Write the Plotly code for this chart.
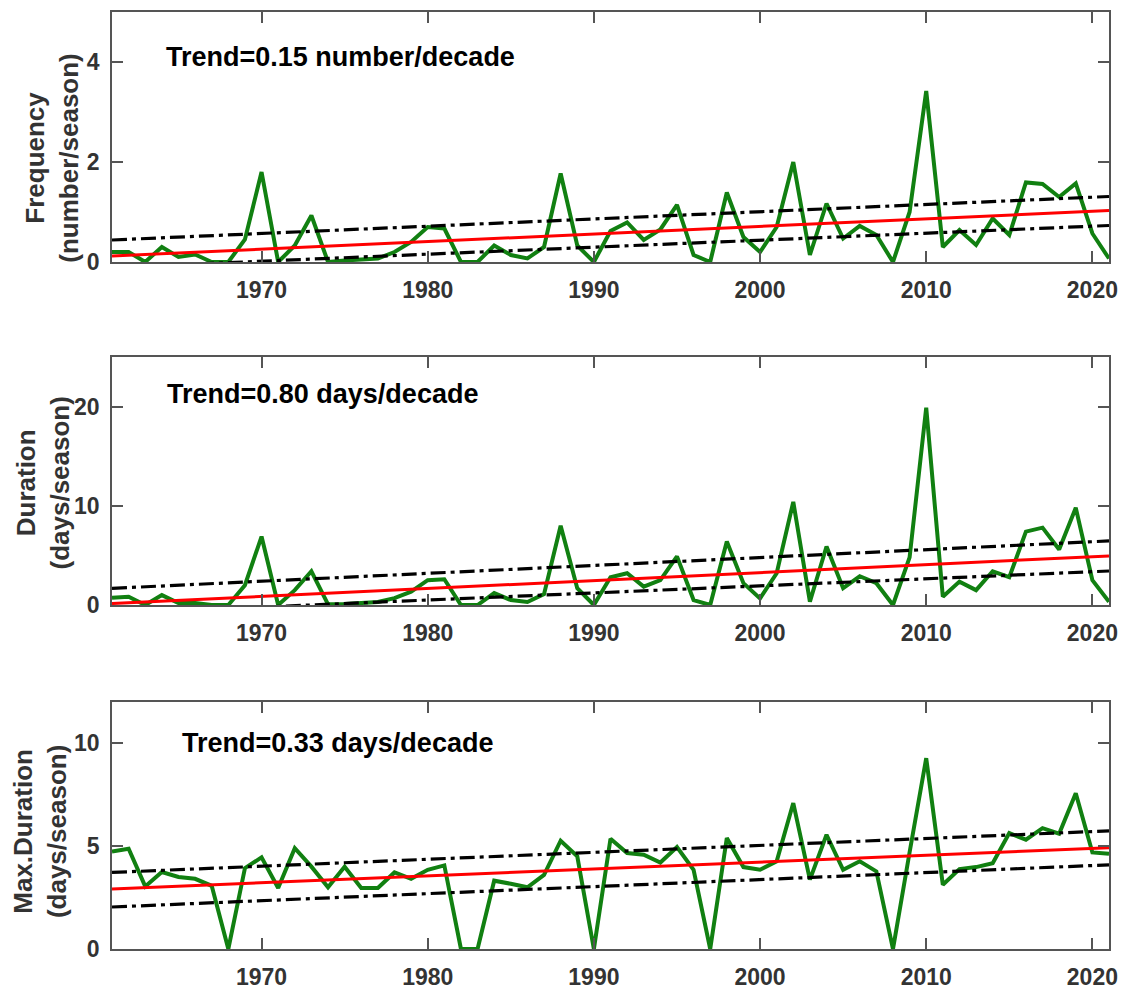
import plotly.graph_objects as go

years = list(range(1961, 2022))

frequency = [0.2, 0.2, 0.0, 0.3, 0.1, 0.15, 0.0, 0.0, 0.45, 1.8,
             0.0, 0.33, 0.93, 0.0, 0.03, 0.05, 0.07, 0.2, 0.4, 0.7,
             0.67, 0.0, 0.0, 0.33, 0.14, 0.07, 0.3, 1.77, 0.33, 0.0,
             0.62, 0.79, 0.44, 0.65, 1.14, 0.14, 0.0, 1.39, 0.5, 0.2,
             0.7, 2.0, 0.14, 1.17, 0.47, 0.72, 0.54, 0.0, 1.0, 3.42,
             0.3, 0.64, 0.34, 0.87, 0.54, 1.59, 1.56, 1.3, 1.57, 0.57,
             0.07]

duration = [0.74, 0.84, 0.0, 1.0, 0.2, 0.2, 0.0, 0.0, 2.0, 6.9,
            0.0, 1.5, 3.4, 0.07, 0.1, 0.2, 0.3, 0.7, 1.35, 2.5,
            2.6, 0.0, 0.0, 1.2, 0.5, 0.3, 1.1, 8.0, 1.7, 0.0,
            2.8, 3.2, 1.85, 2.5, 4.9, 0.5, 0.0, 6.4, 2.2, 0.67,
            3.2, 10.4, 0.34, 5.9, 1.7, 2.9, 2.2, 0.0, 4.8, 19.9,
            0.84, 2.36, 1.5, 3.4, 2.8, 7.4, 7.8, 5.6, 9.8, 2.5,
            0.34]

max_duration = [4.74, 4.87, 3.04, 3.74, 3.5, 3.41, 3.07, 0.0, 3.93, 4.45,
                2.96, 4.9, 4.0, 3.0, 4.0, 2.96, 2.96, 3.72, 3.41, 3.85,
                4.06, 0.0, 0.0, 3.32, 3.17, 3.0, 3.6, 5.26, 4.5, 0.0,
                5.36, 4.66, 4.58, 4.2, 4.95, 3.85, 0.0, 5.39, 3.98, 3.85,
                4.26, 7.09, 3.37, 5.55, 3.85, 4.26, 3.77, 0.0, 4.7, 9.27,
                3.12, 3.88, 3.98, 4.17, 5.63, 5.31, 5.87, 5.6, 7.57, 4.69,
                4.63]

trend_years = [1961, 2021]
freq_trend = [0.12, 1.03]
freq_upper = [0.44, 1.31]
freq_lower = [-0.11, 0.73]
dur_trend = [0.15, 4.95]
dur_upper = [1.68, 6.46]
dur_lower = [-0.85, 3.43]
maxd_trend = [2.92, 4.92]
maxd_upper = [3.72, 5.74]
maxd_lower = [2.04, 4.09]

trend_texts = ["Trend=0.15 number/decade", "Trend=0.80 days/decade", "Trend=0.33 days/decade"]
y_titles = ["Frequency<br>(number/season)", "Duration<br>(days/season)", "Max.Duration<br>(days/season)"]
x_ticks = [1970, 1980, 1990, 2000, 2010, 2020]

FONT = "Arial, Liberation Sans, sans-serif"
GREEN = "#118011"
FRAME = "#555555"
LABEL = "#333333"

panels = [
    dict(y=frequency, t=freq_trend, u=freq_upper, l=freq_lower, rng=[0, 5], dtick=2,
         dom=[0.7332, 1.0], tx=1964.1, ty=0.82, tcx=-0.0597, tcy=0.845),
    dict(y=duration, t=dur_trend, u=dur_upper, l=dur_lower, rng=[0, 25], dtick=10,
         dom=[0.3671, 0.6318], tx=1964.2, ty=0.851, tcx=-0.069, tcy=0.497),
    dict(y=max_duration, t=maxd_trend, u=maxd_upper, l=maxd_lower, rng=[0, 12], dtick=5,
         dom=[0.0, 0.2636], tx=1965.1, ty=0.836, tcx=-0.072, tcy=0.125),
]

fig = go.Figure()
annotations = []
layout = {}
for i, p in enumerate(panels):
    n = "" if i == 0 else str(i + 1)
    xa, ya = "x" + n, "y" + n
    dash = "15px,5px,4px,5px"
    fig.add_trace(go.Scatter(x=years, y=p["y"], mode="lines", line=dict(color=GREEN, width=4),
                             xaxis=xa, yaxis=ya, showlegend=False))
    fig.add_trace(go.Scatter(x=trend_years, y=p["u"], mode="lines",
                             line=dict(color="black", width=3.2, dash=dash),
                             xaxis=xa, yaxis=ya, showlegend=False))
    fig.add_trace(go.Scatter(x=trend_years, y=p["l"], mode="lines",
                             line=dict(color="black", width=3.2, dash=dash),
                             xaxis=xa, yaxis=ya, showlegend=False))
    fig.add_trace(go.Scatter(x=trend_years, y=p["t"], mode="lines",
                             line=dict(color="#ff0000", width=3),
                             xaxis=xa, yaxis=ya, showlegend=False))
    layout["xaxis" + n] = dict(
        domain=[0, 1], range=[1961, 2021], anchor=ya, automargin=False,
        tickvals=x_ticks, ticktext=[str(v) for v in x_ticks],
        ticks="inside", ticklen=11, tickwidth=1.5, tickcolor=FRAME,
        showline=True, linecolor=FRAME, linewidth=1.5, mirror="ticks",
        showgrid=False, zeroline=False, ticklabelstandoff=7,
        tickfont=dict(family=FONT, size=23, color=LABEL, weight="bold"),
    )
    layout["yaxis" + n] = dict(
        domain=p["dom"], range=p["rng"], anchor=xa, dtick=p["dtick"], tick0=0,
        automargin=False,
        ticks="inside", ticklen=11, tickwidth=1.5, tickcolor=FRAME,
        showline=True, linecolor=FRAME, linewidth=1.5, mirror="ticks",
        showgrid=False, zeroline=False, ticklabelstandoff=6,
        tickfont=dict(family=FONT, size=23, color=LABEL, weight="bold"),
    )
    annotations.append(dict(
        text=trend_texts[i], x=p["tx"], y=p["ty"], xref=xa, yref=ya + " domain",
        xanchor="left", yanchor="middle", showarrow=False,
        font=dict(family=FONT, size=27, color="black", weight="bold"),
    ))
    annotations.append(dict(
        text=y_titles[i], x=p["tcx"], y=p["tcy"], xref="paper", yref="paper",
        xanchor="center", yanchor="middle", textangle=-90, showarrow=False,
        font=dict(family=FONT, size=26, color=LABEL, weight="bold"),
    ))

fig.update_layout(
    width=1131, height=991, autosize=False,
    margin=dict(l=112, r=22, t=12, b=42, autoexpand=False),
    paper_bgcolor="white", plot_bgcolor="white",
    annotations=annotations, showlegend=False,
    **layout,
)

fig.write_html(
    "out.html",
    config={"displayModeBar": False},
    post_script="document.body.style.margin='0';document.body.style.overflow='hidden';",
)
